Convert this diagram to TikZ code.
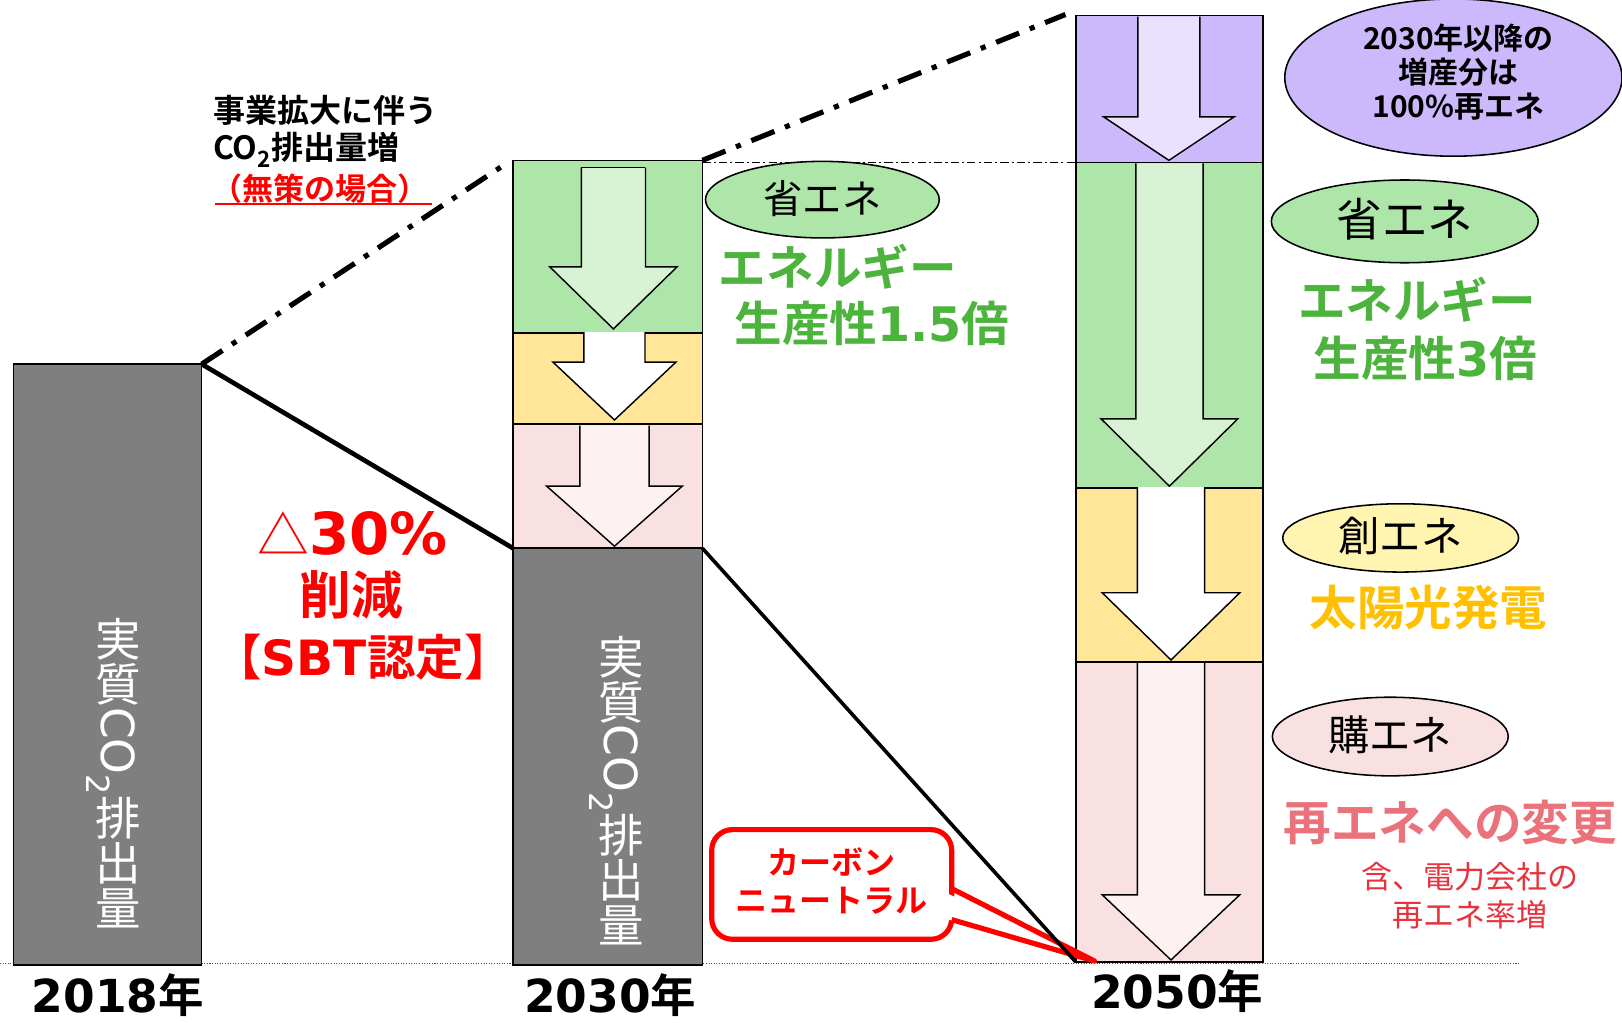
\documentclass[tikz,border=0pt]{standalone}
\usepackage{fontspec}
\setmainfont{Noto Sans CJK JP}[BoldFont={Noto Sans CJK JP Bold}]
\newfontfamily\lat{DejaVu Sans}
\usetikzlibrary{shapes.geometric}
\definecolor{gbar}{HTML}{7F7F7F}
\definecolor{grn}{HTML}{AEE5A8}
\definecolor{grnA}{HTML}{D7F3D3}
\definecolor{yel}{HTML}{FFE699}
\definecolor{pnk}{HTML}{FAE1E1}
\definecolor{pnkA}{HTML}{FDF1F1}
\definecolor{pur}{HTML}{CBB9FB}
\definecolor{purA}{HTML}{E9E1FD}
\definecolor{cre}{HTML}{FFF5B0}
\definecolor{gtxt}{HTML}{4CB33C}
\definecolor{ytxt}{HTML}{FFC000}
\definecolor{stxt}{HTML}{EA737B}
\definecolor{rtxt}{HTML}{E8323C}
\newcommand\fsz[1]{\fontsize{#1pt}{#1pt}\selectfont}
\newcommand\uc[1]{\rotatebox[origin=c]{90}{\raisebox{0pt}[0.87em][0.12em]{#1}}}
\newcommand\barrow[7]{%
 \fill[#1] ({#2-#3},#5) -- ({#2-#3},#6) -- ({#2-#4},#6) -- (#2,#7) -- ({#2+#4},#6) -- ({#2+#3},#6) -- ({#2+#3},#5) -- cycle;
 \draw[arrline] ({#2-#3},#5) -- ({#2-#3},#6) -- ({#2-#4},#6) -- (#2,#7) -- ({#2+#4},#6) -- ({#2+#3},#6) -- ({#2+#3},#5);}
\tikzset{
 box/.style={draw=black, line width=1.5pt, anchor=north west, inner sep=0pt, outer sep=0pt},
 arrline/.style={draw=black, line width=1.4pt, line join=miter},
 ell/.style={ellipse, draw=black, line width=1.5pt, inner sep=0pt, outer sep=0pt},
 lbl/.style={inner sep=0pt, outer sep=0pt},
 vt/.style={lbl, rotate=-90, text=white, font=\fsz{44}},
 gt/.style={lbl, anchor=west, text=gtxt, font=\bfseries\fsz{46}},
 yr/.style={lbl, font=\bfseries\fsz{44}},
 dd/.style={line width=5pt, dash pattern=on 24pt off 11pt on 5pt off 11pt},
}
\begin{document}
\begin{tikzpicture}[x=1pt,y=-1pt]
\useasboundingbox (0,0) rectangle (1568,988);
\fill[white] (0,0) rectangle (1568,988);
% baseline
\coordinate (bl0) at (0,931);
\coordinate (bl1) at (1470,931);
\draw[line width=1pt, dash pattern=on 1pt off 1.5pt, black!70] (bl0) -- (bl1);
% 2018
\node[box, fill=gbar, minimum width=182pt, minimum height=581pt] (b18) at (13,352) {};
% 2030 column
\node[box, fill=gbar, minimum width=183pt, minimum height=403pt] (c30k) at (496,530) {};
\node[box, fill=pnk, minimum width=183pt, minimum height=120pt] (c30p) at (496,410) {};
\node[box, fill=yel, minimum width=183pt, minimum height=88pt] (c30y) at (496,322) {};
\node[box, fill=grn, minimum width=183pt, minimum height=167pt] (c30g) at (496,155) {};
% 2050 column
\node[box, fill=pnk, minimum width=181pt, minimum height=290pt] (c50p) at (1040,640) {};
\node[box, fill=yel, minimum width=181pt, minimum height=168pt] (c50y) at (1040,472) {};
\node[box, fill=grn, minimum width=181pt, minimum height=315pt] (c50g) at (1040,157) {};
\node[box, fill=pur, minimum width=181pt, minimum height=142pt] (c50u) at (1040,15) {};
% arrows 2030
\barrow{grnA}{593}{31}{61.5}{162}{258}{318}
\draw[arrline] ({593-31},162) -- ({593+31},162);
\barrow{white}{594}{29.5}{59.5}{321}{350}{406}
\barrow{pnkA}{594}{33.5}{65.5}{411.5}{470}{528}
% arrows 2050
\barrow{purA}{1130}{30}{63}{16}{113}{155}
\barrow{grnA}{1130.5}{32.5}{66}{158}{405}{470}
\barrow{white}{1132}{32.5}{66.5}{471}{573}{638}
\barrow{pnkA}{1132}{32.5}{66.5}{641}{865}{928}
% vertical texts
\node[vt] (v18) at (110,748) {\uc{実}\uc{質}{\lat CO\textsubscript{2}}\uc{排}\uc{出}\uc{量}};
\node[vt] (v30) at (596,765) {\uc{実}\uc{質}{\lat CO\textsubscript{2}}\uc{排}\uc{出}\uc{量}};
% lines
\coordinate (ptop) at (1030,14);
\draw[dd] (b18.north east) -- ([xshift=-8pt,yshift=-4pt]c30g.north west);
\draw[dd] (c30g.north east) -- (ptop);
\draw[line width=1.2pt, dash pattern=on 8pt off 3pt on 2pt off 3pt] (c30g.north east |- c50g.north west) -- (c50g.north west);
\draw[line width=4.5pt] (b18.north east) -- (c30k.north west);
% callout
\node[box, draw=red, line width=5pt, rounded corners=20pt, fill=white, minimum width=232pt, minimum height=106pt] (cb) at (688,802) {};
\coordinate (ctip) at (1058,929);
\fill[white] (910,861) -- (ctip) -- (910,887) -- cycle;
\draw[red, line width=5pt, line join=round] (920,859) -- (ctip) -- (920,889);
\node[lbl, text=red, font=\bfseries\fontsize{31pt}{37pt}\selectfont, align=center] (cn) at (804,852) {カーボン\\ニュートラル};
\draw[line width=3.5pt] (c30k.north east) -- (c50p.south west);
% left annotation
\node[lbl, anchor=west, font=\bfseries\fsz{31}] (t1) at (206,107) {事業拡大に伴う};
\node[lbl, anchor=west, font=\bfseries\fsz{31}] (t2) at (206,145) {CO\textsubscript{2}排出量増};
\node[lbl, anchor=west, font=\bfseries\fsz{30}, text=red] (t3) at (204,182) {（無策の場合）};
\draw[red, line width=1.5pt] (208,197) -- (418,197);
% reduction text
\node[lbl, text=red] (d30) at (341,516) {\fsz{50}△{\lat\bfseries\fsz{56}30\%}};
\node[lbl, text=red, font=\bfseries\fsz{50}] (sak) at (340,575) {削減};
\node[lbl, text=red, font=\bfseries\fsz{47}] (sbt) at (351,635) {【{\lat SBT}認定】};
% year labels
\node[yr] (y18) at (114,962) {{\lat 2018}年};
\node[yr] (y30) at (590,962) {{\lat 2030}年};
\node[yr] (y50) at (1138,958) {{\lat 2050}年};
% ellipses
\node[ell, fill=grn, minimum width=226pt, minimum height=74pt] (e30) at (795,193) {};
\node[lbl, font=\fsz{38}] (e30t) at (795,192) {省エネ};
\node[ell, fill=pur, minimum width=326pt, minimum height=152pt] (epu) at (1405,75) {};
\node[lbl, font=\bfseries\fontsize{29pt}{33pt}\selectfont, align=center] (eput) at (1410,70) {2030年以降の\\増産分は\\100\%再エネ};
\node[ell, fill=grn, minimum width=258pt, minimum height=80pt] (e50s) at (1358,214) {};
\node[lbl, font=\fsz{44}] (e50st) at (1358,212) {省エネ};
\node[ell, fill=cre, minimum width=228pt, minimum height=66pt] (e50c) at (1354,520) {};
\node[lbl, font=\fsz{40}] (e50ct) at (1354,518) {創エネ};
\node[ell, fill=pnk, minimum width=228pt, minimum height=76pt] (e50k) at (1344,712) {};
\node[lbl, font=\fsz{40}] (e50kt) at (1344,710) {購エネ};
% coloured texts
\node[gt] (g1a) at (695,258) {エネルギー};
\node[gt] (g1b) at (710,313) {生産性{\lat 1.5}倍};
\node[gt] (g2a) at (1255,290) {エネルギー};
\node[gt] (g2b) at (1270,346) {生産性{\lat 3}倍};
\node[gt, text=ytxt] (s1) at (1266,587) {太陽光発電};
\node[gt, text=stxt] (r1) at (1241,795) {再エネへの変更};
\node[lbl, anchor=west, text=rtxt, font=\fsz{30}] (r2) at (1316,848) {含、電力会社の};
\node[lbl, anchor=west, text=rtxt, font=\fsz{30}] (r3) at (1346,884) {再エネ率増};
\end{tikzpicture}
\end{document}
